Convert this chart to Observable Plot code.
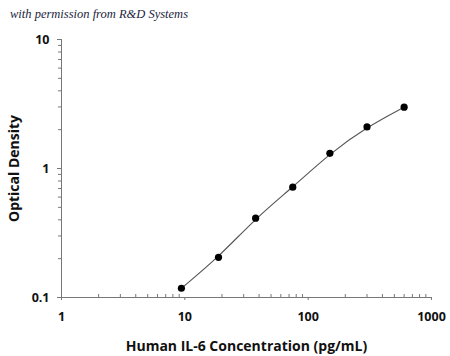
<!DOCTYPE html>
<html>
<head>
<meta charset="utf-8">
<script src="https://cdn.jsdelivr.net/npm/d3@7"></script>
<script src="https://cdn.jsdelivr.net/npm/@observablehq/plot@0.6"></script>
<style>
  body { margin: 0; background: #fff; }
  #wrap { position: relative; width: 450px; height: 356px; }
  #title { position: absolute; left: 10px; top: 7px; font-family: "Liberation Serif", "DejaVu Serif", serif; font-style: italic; font-size: 12.5px; color: #1c2440; z-index: 2; }
</style>
</head>
<body>
<div id="wrap"><div id="title">with permission from R&amp;D Systems</div></div>
<script>
const concentration = [9.38, 18.75, 37.5, 75, 150, 300, 600];
const opticalDensity = [0.118, 0.205, 0.412, 0.716, 1.31, 2.10, 2.99];
const xMajor = [1, 10, 100, 1000];
const yMajor = [0.1, 1, 10];
const xMinor = [2,3,4,5,6,7,8,9,20,30,40,50,60,70,80,90,200,300,400,500,600,700,800,900];
const yMinor = [0.2,0.3,0.4,0.5,0.6,0.7,0.8,0.9,2,3,4,5,6,7,8,9];

const data = concentration.map((c, i) => ({c, od: opticalDensity[i]}));
const axisColor = "#777";
const W = 450, H = 356, ML = 61, MR = 19, MT = 39, MB = 59;
const plotW = W - ML - MR, plotH = H - MT - MB;

const chart = Plot.plot({
  width: W,
  height: H,
  marginLeft: ML,
  marginRight: MR,
  marginTop: MT,
  marginBottom: MB,
  style: {fontFamily: "'Open Sans', sans-serif", background: "#fff"},
  x: {type: "log", domain: [1, 1000]},
  y: {type: "log", domain: [0.1, 10]},
  marks: [
    Plot.ruleY([0.1], {stroke: axisColor, strokeWidth: 1}),
    Plot.ruleX([1], {stroke: axisColor, strokeWidth: 1}),
    Plot.tickX(xMinor, {x: d => d, stroke: axisColor, insetTop: plotH - 3}),
    Plot.tickY(yMinor, {y: d => d, stroke: axisColor, insetRight: plotW - 3, dx: -3}),
    Plot.axisX({ticks: xMajor, tickSize: 3, tickPadding: 12, stroke: axisColor, fill: "#111",
      tickFormat: d => String(d), fontSize: 12.5, fontWeight: "bold", label: null}),
    Plot.axisY({ticks: yMajor, tickSize: 4, tickPadding: 8, stroke: axisColor, fill: "#111",
      tickFormat: d => String(d), fontSize: 12.5, fontWeight: "bold", label: null}),
    Plot.text(["Human IL-6 Concentration (pg/mL)"], {frameAnchor: "bottom", dy: 53, fontSize: 14, fontWeight: "bold", fill: "#111"}),
    Plot.text(["Optical Density"], {frameAnchor: "left", textAnchor: "middle", dx: -47, rotate: -90, fontSize: 14, fontWeight: "bold", fill: "#111"}),
    Plot.line(data, {x: "c", y: "od", curve: "basis", stroke: "#555", strokeWidth: 1.1}),
    Plot.dot(data, {x: "c", y: "od", r: 3.6, fill: "#000", stroke: "none"})
  ]
});
document.getElementById("wrap").appendChild(chart);
</script>
</body>
</html>
